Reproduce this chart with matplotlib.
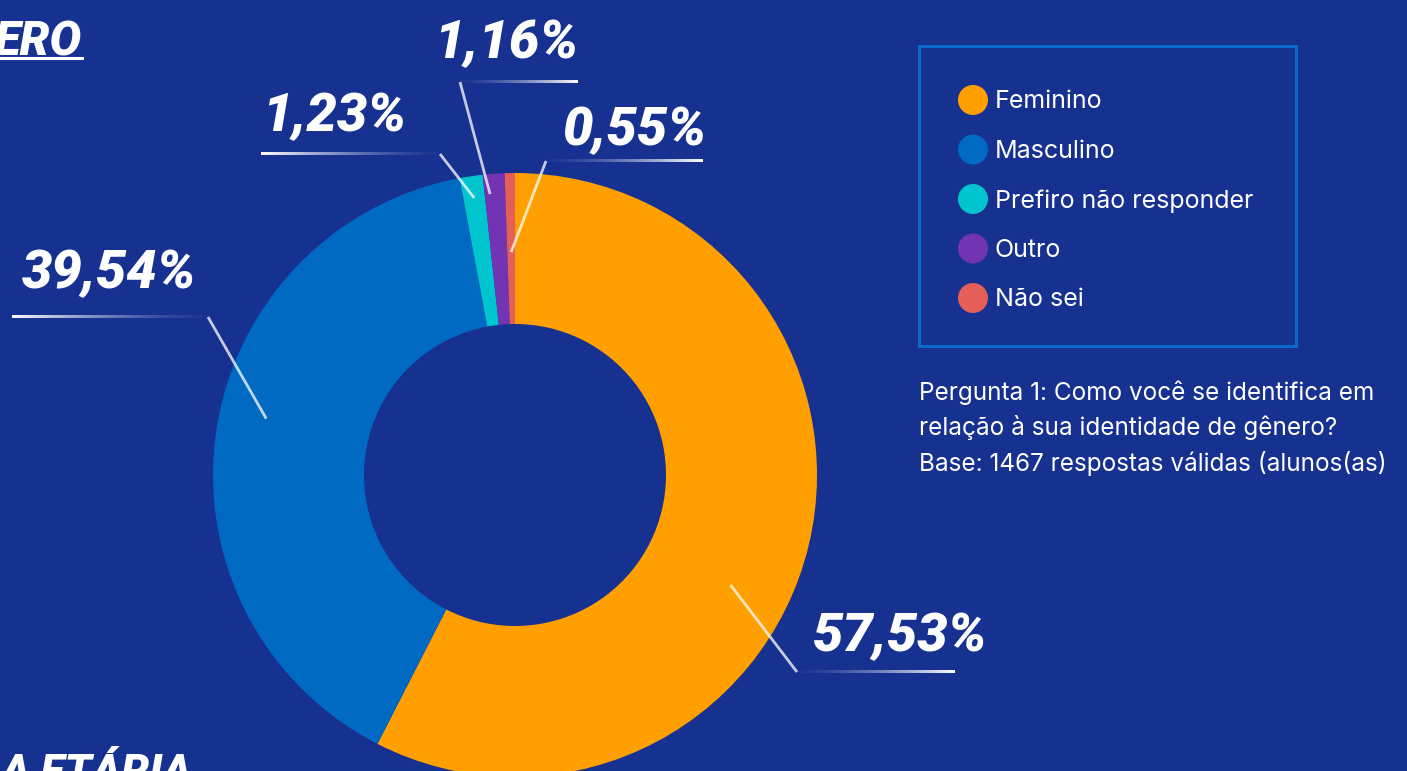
import numpy as np
import matplotlib.pyplot as plt
from matplotlib.patches import Rectangle, Circle

# data
labels = ["Feminino", "Masculino", "Prefiro não responder", "Outro", "Não sei"]
values = [57.53, 39.54, 1.23, 1.16, 0.55]
pct_text = ["57,53%", "39,54%", "1,23%", "1,16%", "0,55%"]
colors = ["#FFA000", "#0069C2", "#00C4CE", "#7334B4", "#E35F57"]

caption = ["Pergunta 1: Como você se identifica em",
           "relação à sua identidade de gênero?",
           "Base: 1467 respostas válidas (alunos(as)"]

BG = "#163190"
W, H = 1407, 771

# pixel layout (from top-left), per label:
# anchor radius, angle nudge (deg), elbow, end of underline, text x, text baseline, ha
layout = [
    (242, 13.5, (797, 672), 955, 813, 651, "left"),
    (255, 4.5, (208, 317), 12, 22, 288, "left"),
    (280, 0.0, (440, 154), 261, 262, 131, "left"),
    (282, -1.0, (460, 82), 578, 578, 58, "right"),
    (223, 0.0, (546, 161), 703, 706, 145, "right"),
]

cx, cy, R = 515, 475, 302


def py(y):
    return H - y


fig = plt.figure(figsize=(W / 100, H / 100), dpi=100, facecolor=BG)
ax = fig.add_axes([0, 0, 1, 1])
ax.set_facecolor(BG)

ax.pie(values, colors=colors, startangle=90, counterclock=False,
       center=(cx, py(cy)), radius=R,
       wedgeprops=dict(width=R * 0.5, linewidth=0))

label_font = dict(family=["Roboto", "DejaVu Sans"],
                  fontweight="heavy", style="italic", color="white")
body_font = ["Inter", "DejaVu Sans"]


def fade_line(x0, x1, y, lw=3):
    # horizontal line fading from x0 (faint) to x1 (solid)
    n = 200
    grad = np.ones((1, n, 4))
    grad[0, :, 3] = np.linspace(0.08, 1.0, n) ** 1.6
    if x1 < x0:
        grad = grad[:, ::-1]
        x0, x1 = x1, x0
    ax.imshow(grad, extent=[x0, x1, py(y) - lw / 2, py(y) + lw / 2],
              aspect="auto", interpolation="bilinear", zorder=3)


cum = np.cumsum([0] + values[:-1])
total = sum(values)
for i, v in enumerate(values):
    r_a, nudge, elbow, xend, tx, ty, ha = layout[i]
    mid = (cum[i] + v / 2) / total * 360 + nudge
    ax_ = cx + r_a * np.sin(np.radians(mid))
    ay_ = cy - r_a * np.cos(np.radians(mid))
    ax.plot([ax_, elbow[0]], [py(ay_), py(elbow[1])], color="white",
            alpha=0.75, lw=2, solid_capstyle="butt", zorder=3)
    fade_line(elbow[0], xend, elbow[1])
    ax.text(tx, py(ty), pct_text[i], ha=ha, va="baseline", fontsize=39,
            **label_font)

# legend box
ax.add_patch(Rectangle((919, py(346)), 377, 300, fill=False,
                       edgecolor="#0A6ACB", lw=2.2))
for i, lab in enumerate(labels):
    yy = 100 + i * 49.5
    ax.add_patch(Circle((973, py(yy)), 15, color=colors[i], lw=0))
    ax.text(995, py(yy + 2), lab, ha="left", va="center", fontsize=18,
            color="white", family=body_font)

for i, line in enumerate(caption):
    ax.text(919, py(393 + i * 35), line, ha="left", va="center", fontsize=17.5,
            color="white", family=body_font)

# cropped section titles
ax.text(82, py(55), "ERO", ha="right", va="baseline", fontsize=34, **label_font)
ax.plot([0, 82], [py(58), py(58)], color="white", lw=2.2)
ax.text(0, py(753), "A ETÁRIA", ha="left", va="top", fontsize=32, **label_font)

ax.set_xlim(0, W)
ax.set_ylim(0, H)
ax.set_aspect("equal")
ax.axis("off")

fig.savefig("out.png", dpi=100, facecolor=BG)
